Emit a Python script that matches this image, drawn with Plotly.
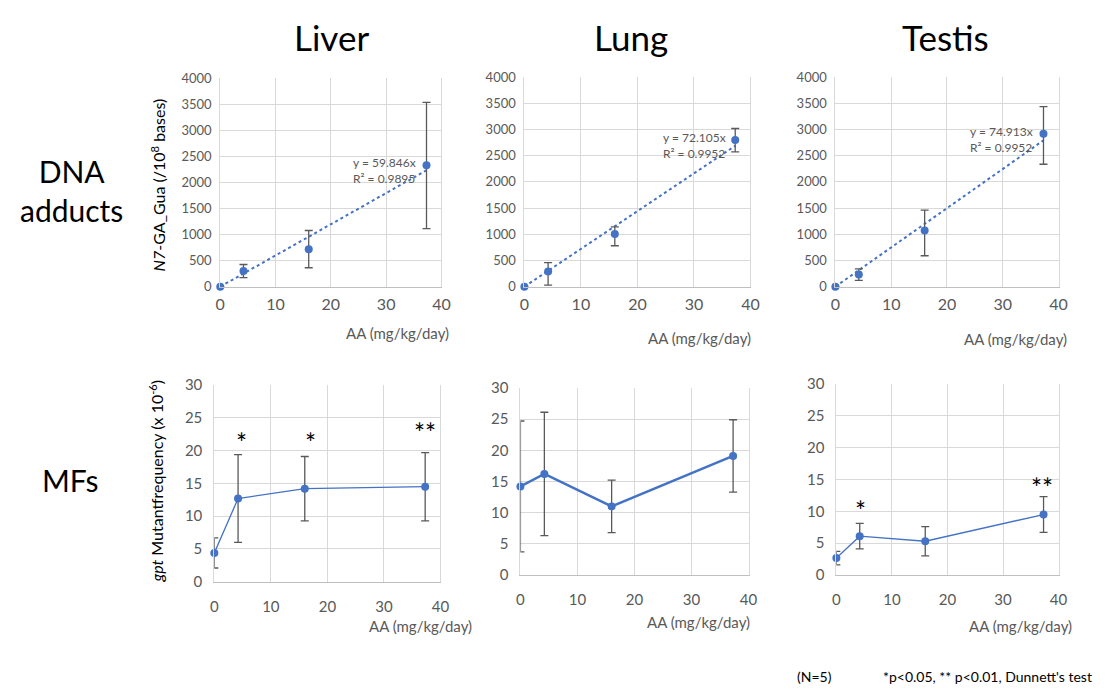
import plotly.graph_objects as go

W, H = 1110, 695

# ---------------- data ----------------
dose = [0, 4.2, 16.0, 37.3]
organs = ["Liver", "Lung", "Testis"]

# DNA adducts: N7-GA-Gua (/10^8 bases)
adduct_liver = [0, 300, 720, 2330]
adduct_liver_err_plus = [0, 125, 357, 1205]
adduct_liver_err_minus = [0, 125, 357, 1215]
adduct_lung = [0, 290, 1005, 2800]
adduct_lung_err_plus = [0, 167, 136, 220]
adduct_lung_err_minus = [0, 262, 224, 226]
adduct_testis = [0, 230, 1070, 2920]
adduct_testis_err_plus = [0, 110, 390, 520]
adduct_testis_err_minus = [0, 110, 480, 582]
trend_slope = [59.846, 72.105, 74.913]
trend_r2 = ["0.9895", "0.9952", "0.9952"]

# gpt mutant frequency (x 10^-6)
mf_liver = [4.4, 12.7, 14.2, 14.5]
mf_liver_err = [2.3, 6.7, 4.9, 5.2]
mf_lung = [14.2, 16.2, 11.0, 19.1]
mf_lung_err = [10.5, 9.9, 4.2, 5.8]
mf_testis = [2.65, 6.1, 5.3, 9.5]
mf_testis_err = [1.07, 2.0, 2.3, 2.8]

x_ticks = [0, 10, 20, 30, 40]
adduct_ticks = [0, 500, 1000, 1500, 2000, 2500, 3000, 3500, 4000]
mf_ticks = [0, 5, 10, 15, 20, 25, 30]

# ---------------- style ----------------
FONT = "Lato, 'Open Sans', sans-serif"
BLUE = "#4472C4"
GREY_TXT = "#595959"
ERR = "#595959"
GRID = "#d9d9d9"

def fx(px):
    return px / W

def fy(py):
    return 1 - py / H

# plot-area boxes in pixels: (left, right, top, bottom)
boxes = [
    (218, 442, 70, 284),
    (526, 755, 69, 284),
    (841, 1067, 69, 284),
    (212, 441, 385, 587),
    (522, 753, 388, 580),
    (842, 1067, 384, 580),
]

fig = go.Figure()
layout = dict(
    width=W, height=H,
    margin=dict(l=0, r=0, t=0, b=0),
    paper_bgcolor="white", plot_bgcolor="white",
    showlegend=False,
    font=dict(family=FONT, color=GREY_TXT),
)

for i, (l, r, t, b) in enumerate(boxes):
    k = "" if i == 0 else str(i + 1)
    top_row = i < 3
    layout["xaxis" + k] = dict(
        domain=[fx(l), fx(r)], anchor="y" + k, range=[0, 40],
        tickvals=x_ticks, showgrid=True, gridcolor=GRID, gridwidth=1,
        zeroline=False, showline=True, linecolor="#bfbfbf", linewidth=1,
        ticks="outside", ticklen=3 if top_row else 11, tickcolor="rgba(0,0,0,0)",
        tickfont=dict(size=16 if top_row else 15, color=GREY_TXT, family=FONT),
        fixedrange=True,
    )
    layout["yaxis" + k] = dict(
        domain=[fy(b), fy(t)], anchor="x" + k,
        range=[0, 4000] if top_row else [0, 30],
        tickvals=adduct_ticks if top_row else mf_ticks,
        showgrid=True, gridcolor=GRID, gridwidth=1,
        zeroline=False, showline=True, mirror=True, linecolor=GRID, linewidth=1,
        ticks="outside", ticklen=5 if top_row else 8, tickcolor="rgba(0,0,0,0)",
        tickfont=dict(size=13 if top_row else 15, color=GREY_TXT, family=FONT),
        fixedrange=True,
    )

fig.update_layout(**layout)

def ax(i):
    return ("x" if i == 0 else "x" + str(i + 1)), ("y" if i == 0 else "y" + str(i + 1))

# ----- top row: DNA adducts with trendlines -----
adducts = [
    (adduct_liver, adduct_liver_err_plus, adduct_liver_err_minus),
    (adduct_lung, adduct_lung_err_plus, adduct_lung_err_minus),
    (adduct_testis, adduct_testis_err_plus, adduct_testis_err_minus),
]
for i, (vals, ep, em) in enumerate(adducts):
    xa, ya = ax(i)
    slope = trend_slope[i]
    fig.add_trace(go.Scatter(
        x=[0, dose[-1]], y=[0, slope * dose[-1]], mode="lines",
        line=dict(color=BLUE, width=2, dash="dot"),
        xaxis=xa, yaxis=ya, hoverinfo="skip", cliponaxis=False,
    ))
    fig.add_trace(go.Scatter(
        x=dose, y=vals, mode="markers",
        marker=dict(color=BLUE, size=8),
        error_y=dict(type="data", symmetric=False, array=ep, arrayminus=em,
                     color=ERR, thickness=1.3, width=4),
        xaxis=xa, yaxis=ya, cliponaxis=False,
    ))

# ----- bottom row: mutant frequency -----
mfs = [(mf_liver, mf_liver_err, 1.3), (mf_lung, mf_lung_err, 2.5), (mf_testis, mf_testis_err, 1.3)]
for j, (vals, err, lw) in enumerate(mfs):
    xa, ya = ax(j + 3)
    fig.add_trace(go.Scatter(
        x=dose, y=vals, mode="lines+markers",
        line=dict(color=BLUE, width=lw),
        marker=dict(color=BLUE, size=8),
        error_y=dict(type="data", array=err, color=ERR, thickness=1.3, width=4),
        xaxis=xa, yaxis=ya, cliponaxis=False,
    ))

# ---------------- text ----------------
ann = []

def text(px, py, s, size, color="black", xanchor="center", yanchor="middle", angle=0, align="center"):
    ann.append(dict(x=fx(px), y=fy(py), xref="paper", yref="paper", text=s, showarrow=False,
                    xanchor=xanchor, yanchor=yanchor, textangle=angle, align=align,
                    font=dict(size=size, color=color, family=FONT)))

# column titles
for name, cx in zip(organs, [331, 634, 953]):
    text(cx, 28, name, 35)

# row labels
text(67, 185, "DNA<br>adducts", 30)
text(66, 483, "MFs", 30)

# y-axis titles
text(155, 180, "<i>N7</i>-GA_Gua (/10<sup>8</sup> bases)", 16, angle=-90)
text(153, 484, "<i>gpt</i> Mutantfrequency (x 10<sup>-6</sup>)", 16, angle=-90)

# x-axis titles
for (px, py) in [(452, 332), (758, 337), (1078, 338), (475, 632), (757, 628), (1083, 632)]:
    text(px, py, "AA (mg/kg/day)", 15, color=GREY_TXT, xanchor="right")

# trendline equations
for (px, py), s, r in zip([(418, 165), (732, 139), (1043, 133)], trend_slope, trend_r2):
    text(px, py, "y = %.3fx<br>R² = %s" % (s, r), 12, color=GREY_TXT, xanchor="right", align="left")

# significance marks
for (px, py), s in zip([(240, 444), (309, 444), (425, 434), (866, 514), (1050, 491)],
                       ["*", "*", "**", "*", "**"]):
    text(px, py, s, 26)

# footnote
text(820, 684, "(N=5)", 14)
text(1103, 684, "*p&lt;0.05, ** p&lt;0.01, Dunnett's test", 14, xanchor="right")

fig.update_layout(annotations=ann)
fig.write_html(
    "out.html",
    config={"displayModeBar": False},
    post_script="document.body.style.margin='0';document.body.style.overflow='hidden';",
)
